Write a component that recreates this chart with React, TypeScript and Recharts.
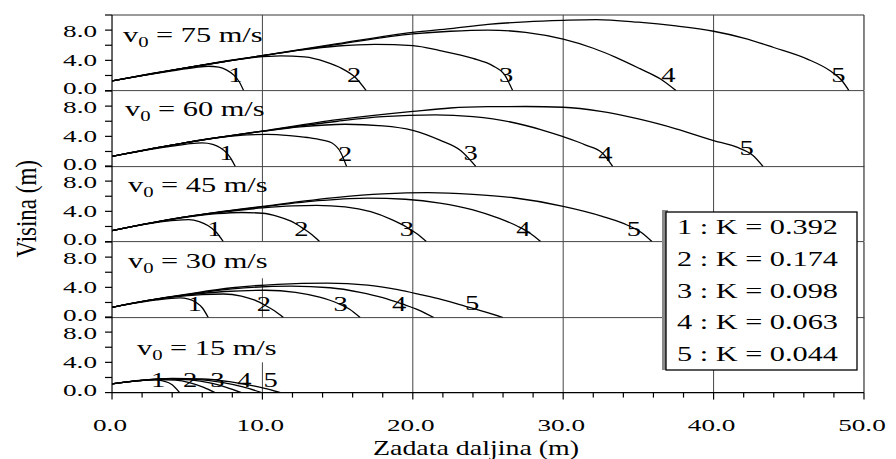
import React from "react";
import { LineChart, Line, XAxis, YAxis, ReferenceLine, ReferenceDot } from "recharts";

// launch speeds (m/s) and drag factors, one curve per K in every panel
const speeds = [75, 60, 45, 30, 15];
const kValues = ["0.392", "0.174", "0.098", "0.063", "0.044"];

const xTicks = [0, 2, 4, 6, 8, 10, 12, 14, 16, 18, 20, 22, 24, 26, 28, 30, 32, 34, 36, 38, 40, 42, 44, 46, 48, 50];
const yTicks = [0, 2, 4, 6, 8, 10];
const gridX = [10, 20, 30, 40];

// trajectories: [distance, height]
const v75 = [
  [[0, 1.28], [2, 1.98], [4, 2.62], [5.5, 3.05], [6.4, 3.22], [7.1, 3.1], [7.6, 2.75], [8.1, 2.05], [8.45, 1.2], [8.75, 0]],
  [[0, 1.28], [2.5, 2.2], [5, 3.05], [7.5, 3.85], [9.5, 4.4], [11.2, 4.6], [12.8, 4.45], [14.2, 3.8], [15.3, 2.9], [16.2, 1.7], [16.9, 0]],
  [[0, 1.28], [2.5, 2.2], [5, 3.05], [7.5, 3.9], [10, 4.62], [12.5, 5.35], [15, 5.9], [17.5, 6.12], [20, 5.95], [21.8, 5.3], [24, 4.25], [25.3, 3.3], [26.1, 2.1], [26.64, 0]],
  [[0, 1.28], [5, 3.05], [10, 4.63], [15, 6.1], [20, 7.5], [22.5, 7.85], [25, 8.0], [27.5, 7.7], [30, 6.8], [32, 5.6], [33.5, 4.4], [35.1, 2.9], [36.5, 1.5], [37.5, 0]],
  [[0, 1.28], [5, 3.05], [10, 4.63], [15, 6.2], [20, 7.7], [22.5, 8.2], [25, 8.75], [27.5, 9.1], [30, 9.3], [32.2, 9.4], [35, 9.05], [37.5, 8.55], [40, 7.85], [42, 6.95], [44, 5.7], [46.2, 4.2], [47.8, 2.55], [48.5, 1.4], [49, 0]],
];
const v60 = [
  [[0, 1.36], [2, 2.08], [4, 2.7], [5.2, 3.05], [6, 3.15], [6.7, 2.95], [7.2, 2.5], [7.6, 1.85], [7.9, 1.1], [8.2, 0]],
  [[0, 1.36], [2.5, 2.3], [5, 3.2], [7.5, 3.95], [9, 4.2], [10.3, 4.25], [11.8, 4.1], [13, 3.85], [14, 3.5], [14.6, 3.15], [15.2, 1.9], [15.6, 0]],
  [[0, 1.36], [5, 3.2], [10, 4.66], [12.5, 5.25], [15.5, 5.6], [18, 5.4], [20, 4.8], [21.8, 3.5], [23.2, 2.1], [24.2, 0]],
  [[0, 1.36], [5, 3.2], [10, 4.68], [15, 6.0], [18, 6.6], [21.5, 6.85], [24, 6.6], [26.5, 5.9], [28.5, 4.9], [30, 3.95], [31.5, 2.85], [32.6, 1.8], [33.3, 0]],
  [[0, 1.36], [5, 3.2], [10, 4.7], [15, 6.2], [20, 7.3], [22.5, 7.75], [25, 7.92], [27.5, 7.95], [30, 7.85], [32.5, 7.3], [35, 6.3], [37.5, 5.0], [40, 3.45], [41.5, 2.6], [42.6, 1.5], [43.3, 0]],
];
const v45 = [
  [[0, 1.45], [1.5, 2.05], [3, 2.55], [4.2, 2.82], [5.1, 2.9], [5.8, 2.65], [6.4, 2.1], [6.9, 1.3], [7.4, 0]],
  [[0, 1.45], [2.5, 2.45], [5, 3.25], [7, 3.7], [8.6, 3.85], [10, 3.75], [11, 3.35], [11.9, 2.7], [12.7, 1.75], [13.3, 0.9], [13.8, 0]],
  [[0, 1.45], [2.5, 2.45], [5, 3.3], [7.5, 3.95], [10, 4.45], [12, 4.72], [13.6, 4.8], [15.5, 4.6], [17.2, 3.95], [18.6, 2.9], [19.6, 1.9], [20.3, 1.0], [20.9, 0]],
  [[0, 1.45], [5, 3.3], [10, 4.6], [14, 5.45], [17, 5.75], [19.5, 5.6], [21.8, 5.1], [24, 4.2], [25.7, 3.1], [27, 2.0], [27.8, 1.1], [28.5, 0]],
  [[0, 1.45], [5, 3.3], [10, 4.65], [15, 5.85], [18, 6.3], [21, 6.47], [24, 6.25], [26.7, 5.8], [30, 4.67], [32.6, 3.35], [34, 2.4], [35.2, 1.2], [35.9, 0]],
];
const v30 = [
  [[0, 1.35], [1.5, 1.9], [3, 2.35], [4.5, 2.6], [5.1, 2.45], [5.6, 2.0], [6.0, 1.3], [6.4, 0]],
  [[0, 1.35], [2, 2.1], [4, 2.7], [6, 3.05], [7.4, 3.12], [8.6, 2.85], [9.5, 2.3], [10.2, 1.6], [10.8, 0.9], [11.4, 0]],
  [[0, 1.35], [2.5, 2.3], [5, 3.0], [7.5, 3.45], [10.2, 3.62], [12.2, 3.35], [13.8, 2.7], [15, 1.9], [15.8, 1.1], [16.5, 0]],
  [[0, 1.35], [2.5, 2.3], [5, 3.05], [8, 3.8], [11.9, 4.15], [14.5, 3.95], [16.5, 3.35], [18, 2.65], [19.3, 1.8], [20.4, 1.0], [21.4, 0]],
  [[0, 1.35], [2.5, 2.3], [5, 3.1], [8, 3.95], [11, 4.4], [14.3, 4.55], [17, 4.3], [19, 3.7], [20.5, 3.05], [22, 2.35], [23.5, 1.5], [24.8, 0.75], [26, 0]],
];
const v15 = [
  [[0, 1.15], [1, 1.42], [2, 1.6], [2.8, 1.67], [3.5, 1.5], [4.0, 1.05], [4.5, 0]],
  [[0, 1.15], [1.5, 1.52], [3, 1.72], [4.2, 1.65], [5.2, 1.3], [6.1, 0.7], [6.85, 0]],
  [[0, 1.15], [2, 1.62], [3.8, 1.8], [5.2, 1.68], [6.5, 1.3], [7.6, 0.7], [8.6, 0]],
  [[0, 1.15], [2, 1.63], [4, 1.84], [5.6, 1.75], [7.2, 1.38], [8.7, 0.75], [9.95, 0]],
  [[0, 1.15], [2, 1.64], [4, 1.87], [6, 1.8], [7.8, 1.45], [9.5, 0.85], [10.5, 0.4], [11.2, 0]],
];
const curves = [v75, v60, v45, v30, v15];

// where the curve numbers sit (data units)
const labels75 = [[8.2, 2.1], [16.1, 2.1], [26.2, 2.2], [37.0, 2.2], [48.3, 2.2]];
const labels60 = [[7.6, 1.9], [15.5, 1.8], [23.85, 1.9], [32.8, 1.8], [42.2, 2.5]];
const labels45 = [[6.8, 1.7], [12.6, 1.7], [19.6, 1.7], [27.35, 1.8], [34.7, 1.8]];
const labels30 = [[5.5, 1.85], [10.1, 1.85], [15.2, 1.85], [19.1, 1.9], [23.95, 2.0]];
const labels15 = [[3.07, 1.72], [5.2, 1.72], [7.0, 1.72], [8.8, 1.72], [10.55, 1.72]];
const curveLabels = [labels75, labels60, labels45, labels30, labels15];

const titleAt = [[0.73, 6.4], [0.86, 6.75], [1.06, 6.5], [1.06, 6.5], [1.66, 5.0]];
// the x=10 gridline is broken behind the title in the two lower panels
const grid10Top = [10, 10, 10, 5.2, 4.0];

const FONT = '"Liberation Serif", "Times New Roman", serif';
const TOP = 15;
const PANEL_H = 75.6;
const PAD = 20;
const AXIS_H = 66;

const toPts = (c: number[][]) => c.map(([x, y]) => ({ x, y }));

function YTick(props: any) {
  const { x, y, payload } = props;
  const v = payload.value;
  // the 0.0 and 8.0 labels of neighbouring panels nearly touch, nudge them apart a little
  const shift = v === 0 ? -2.5 : v === 8 ? 1.5 : 0;
  return (
    <g>
      <line x1={x - 7} x2={x} y1={y} y2={y} stroke="#000" strokeWidth={1.2} />
      {v % 4 === 0 && v < 10 && (
        <text transform={`translate(${x - 15},${y + shift}) scale(1.7,1)`} textAnchor="end" dy="0.35em" fontSize={16} fontFamily={FONT} fill="#000">
          {v.toFixed(1)}
        </text>
      )}
    </g>
  );
}

function XTick(props: any) {
  const { x, y, payload } = props;
  const major = payload.value % 10 === 0;
  return (
    <g>
      <line x1={x} x2={x} y1={y} y2={y + (major ? 7 : 5)} stroke="#000" strokeWidth={1.2} />
      {major && (
        <text transform={`translate(${x - 2},${y + 32.5}) scale(1.7,1)`} textAnchor="middle" dy="0.35em" fontSize={16} fontFamily={FONT} fill="#000">
          {payload.value.toFixed(1)}
        </text>
      )}
    </g>
  );
}

function XTitle(props: any) {
  const vb = props.viewBox;
  return (
    <text transform={`translate(${vb.x + vb.width / 2 - 12},${vb.y + 62}) scale(1.33,1)`} textAnchor="middle" fontSize={21} fontFamily={FONT} fill="#000">
      Zadata daljina (m)
    </text>
  );
}

function YTitle(props: any) {
  const vb = props.viewBox;
  const cy = vb.y + vb.height / 2 + 5;
  return (
    <text transform={`translate(26,${cy}) scale(1.25,1) rotate(-90)`} textAnchor="middle" dy="0.35em" fontSize={23} fontFamily={FONT} fill="#000">
      Visina (m)
    </text>
  );
}

function Panel({ i }: { i: number }) {
  const last = i === 4;
  const top = TOP + PANEL_H * i;
  const height = PAD + PANEL_H + (last ? AXIS_H : PAD);
  return (
    <div style={{ position: "absolute", left: 0, top: top - PAD }}>
      <LineChart width={896} height={height} margin={{ top: PAD, right: 32, bottom: last ? 0 : PAD, left: 52 }}>
        <XAxis
          type="number"
          dataKey="x"
          domain={[0, 50]}
          ticks={xTicks}
          interval={0}
          hide={!last}
          height={AXIS_H}
          tickSize={0}
          tickMargin={0}
          tickLine={false}
          axisLine={{ stroke: "#000", strokeWidth: 1.2 }}
          tick={XTick}
          allowDataOverflow
          label={last ? { content: XTitle } : undefined}
        />
        <YAxis
          type="number"
          domain={[0, 10]}
          ticks={yTicks}
          interval={0}
          width={60}
          tickSize={0}
          tickMargin={0}
          tickLine={false}
          axisLine={{ stroke: "#000", strokeWidth: 1.2 }}
          tick={YTick}
          allowDataOverflow
          label={i === 2 ? { content: YTitle } : undefined}
        />
        {i === 0 && <ReferenceLine y={10} stroke="#9a9a9a" strokeWidth={2} />}
        {!last && <ReferenceLine y={0} stroke="#444" strokeWidth={1} />}
        <ReferenceLine x={50} stroke="#333" strokeWidth={1.2} />
        {gridX.map((gx) =>
          gx === 10 && grid10Top[i] < 10 ? (
            <ReferenceLine key={gx} segment={[{ x: gx, y: 0 }, { x: gx, y: grid10Top[i] }]} stroke="#444" strokeWidth={1} />
          ) : (
            <ReferenceLine key={gx} x={gx} stroke="#444" strokeWidth={1} />
          )
        )}
        {curves[i].map((c, j) => (
          <Line
            key={j}
            name={`v${speeds[i]}-${j + 1}`}
            data={toPts(c)}
            dataKey="y"
            type="monotone"
            stroke="#000"
            strokeWidth={1.3}
            dot={false}
            activeDot={false}
            isAnimationActive={false}
          />
        ))}
        <ReferenceDot
          x={titleAt[i][0]}
          y={titleAt[i][1]}
          r={0}
          fill="none"
          stroke="none"
          label={{
            content: (p: any) => (
              <text transform={`translate(${p.viewBox.x},${p.viewBox.y}) scale(1.38,1)`} fontSize={22} fontFamily={FONT} fill="#000">
                v<tspan fontSize={15} dy={5}>0</tspan>
                <tspan dy={-5}>{` = ${speeds[i]} m/s`}</tspan>
              </text>
            ),
          }}
        />
        {curveLabels[i].map(([lx, ly], j) => (
          <ReferenceDot
            key={`l${j}`}
            x={lx}
            y={ly}
            r={0}
            fill="none"
            stroke="none"
            label={{
              content: (p: any) => (
                <text transform={`translate(${p.viewBox.x},${p.viewBox.y}) scale(1.3,1)`} textAnchor="middle" dy="0.35em" fontSize={22} fontFamily={FONT} fill="#000">
                  {j + 1}
                </text>
              ),
            }}
          />
        ))}
      </LineChart>
    </div>
  );
}

function KLegend() {
  return (
    <svg width={896} height={459} style={{ position: "absolute", left: 0, top: 0, pointerEvents: "none" }}>
      <rect x={662} y={210} width={6} height={160} fill="#8a8a8a" />
      <rect x={666} y={212} width={191} height={158} fill="#fff" stroke="#000" strokeWidth={1.3} />
      {kValues.map((k, j) => (
        <text key={k} x={677} y={234 + 31.8 * j} textLength={161} lengthAdjust="spacingAndGlyphs" fontSize={21} fontFamily={FONT} fill="#000">
          {`${j + 1} : K = ${k}`}
        </text>
      ))}
    </svg>
  );
}

export default function App() {
  return (
    <div style={{ position: "relative", width: 896, height: 459, background: "#fff", overflow: "hidden" }}>
      <style>{"body{margin:0}"}</style>
      {speeds.map((_, i) => (
        <Panel key={i} i={i} />
      ))}
      <KLegend />
    </div>
  );
}
